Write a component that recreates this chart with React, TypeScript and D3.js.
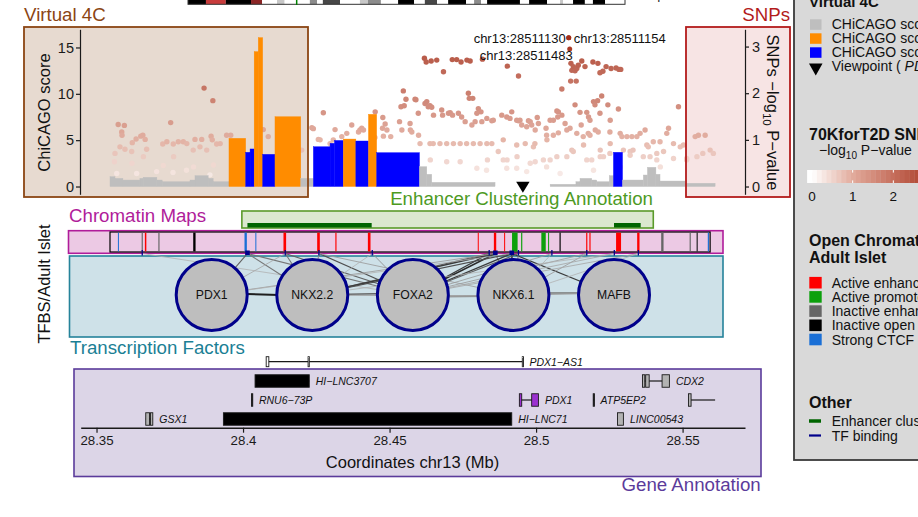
import { useEffect, useRef } from 'react';
import * as d3 from 'd3';

const FONT = "'Liberation Sans', Arial, Helvetica, sans-serif";

// genomic window shared by all tracks (Mb, chr13)
const region: [number, number] = [28.3446, 28.5713];
const viewpoint = 28.4955;

// chr13 ideogram bands [start Mb, end Mb, stain]
const ideoBands: [number, number, string][] = [
  [0, 4.7, 'gpos100'], [4.7, 9.9, 'acen'], [9.9, 16.5, 'gpos100'], [16.5, 19.4, 'gvar'],
  [19.4, 23.3, 'gneg'], [23.3, 25.3, 'gpos25'], [25.3, 31.9, 'gneg'], [31.9, 33.8, 'gpos50'],
  [33.8, 35.3, 'gneg'], [35.3, 39.8, 'gpos75'], [39.8, 45.0, 'gneg'], [45.0, 47.1, 'gpos25'],
  [47.1, 50.5, 'gpos50'], [50.5, 55.0, 'gneg'], [55.0, 59.2, 'gpos100'], [59.2, 62.0, 'gneg'],
  [62.0, 65.2, 'gpos75'], [65.2, 68.1, 'gneg'], [68.1, 72.8, 'gpos100'], [72.8, 74.9, 'gneg'],
  [74.9, 76.7, 'gpos50'], [76.7, 78.3, 'gneg'], [78.3, 86.9, 'gpos100'], [86.9, 89.3, 'gneg'],
  [89.3, 94.0, 'gpos100'], [94.0, 97.4, 'gneg'], [97.4, 98.2, 'gpos25'], [98.2, 100.8, 'gneg'],
  [100.8, 103.9, 'gpos100'], [103.9, 106.0, 'gneg'], [106.0, 109.2, 'gpos100'], [109.2, 114.4, 'gneg'],
];
const chr13Length = 114.4;

// Virtual 4C fragments [start, end, CHiCAGO score]
const v4cFragments: [number, number, number][] = [
  [28.3546, 28.3563, 1.06], [28.3563, 28.359, 0.88], [28.359, 28.3648, 0.7],
  [28.3648, 28.3659, 0.88], [28.3659, 28.3706, 0.99], [28.3706, 28.3724, 0.7],
  [28.3724, 28.3819, 0.52], [28.3819, 28.3836, 0.7], [28.3836, 28.3881, 1.17],
  [28.3881, 28.3898, 0.88], [28.3898, 28.3952, 0.52],
  [28.3952, 28.4009, 5.2], [28.4009, 28.4024, 3.69], [28.4024, 28.4038, 4.05],
  [28.4038, 28.4052, 14.55], [28.4052, 28.4067, 16.06], [28.4067, 28.4109, 3.47],
  [28.4109, 28.4197, 7.53], [28.4197, 28.424, 0.88], [28.424, 28.4297, 4.29],
  [28.4297, 28.4312, 4.66], [28.4312, 28.4342, 4.97], [28.4342, 28.4385, 5.12],
  [28.4385, 28.4428, 4.91], [28.4428, 28.4456, 7.79], [28.4456, 28.4602, 3.65],
  [28.4602, 28.4627, 2.14], [28.4627, 28.4644, 1.32], [28.4644, 28.486, 0.45],
  [28.5048, 28.5136, 0.24], [28.5136, 28.515, 0.52], [28.515, 28.519, 0.88],
  [28.519, 28.5207, 0.7], [28.5207, 28.525, 0.52], [28.525, 28.5264, 1.17],
  [28.5264, 28.5295, 3.69], [28.5295, 28.5366, 0.7], [28.5366, 28.538, 1.24],
  [28.538, 28.5409, 2.07], [28.5409, 28.5423, 1.32], [28.5423, 28.5509, 0.59],
  [28.5509, 28.5611, 0.35],
];

// 70KforT2D SNPs [position Mb, -log10 P]
const snps: [number, number][] = [
  [28.3563, 0.71], [28.3561, 0.53], [28.3569, 0.28], [28.3574, 1.33], [28.358, 0.85], [28.3586, 1.17],
  [28.3587, 1.1], [28.3595, 1.31], [28.3597, 0.8], [28.362, 0.75], [28.3621, 0.5], [28.3622, 0.94],
  [28.3635, 1.02], [28.3637, 0.28], [28.3651, 1.08], [28.3658, 1.1], [28.366, 0.64], [28.3666, 1.01],
  [28.3671, 0.8], [28.3705, 0.32], [28.3726, 0.91], [28.3728, 0.45], [28.374, 0.96], [28.3753, 1.37],
  [28.3762, 0.91], [28.3763, 0.64], [28.3761, 0.3], [28.3779, 0.96], [28.3796, 0.96], [28.3808, 0.92],
  [28.3807, 0.35], [28.383, 0.78], [28.3831, 0.42], [28.3836, 1.01], [28.3853, 0.85], [28.3859, 1.01],
  [28.3867, 2.11], [28.3876, 0.78], [28.3887, 0.25], [28.3891, 1.08], [28.3895, 1.0], [28.3897, 1.84],
  [28.3899, 0.46], [28.391, 0.91], [28.3922, 0.92], [28.3944, 1.1], [28.3958, 1.1], [28.4069, 1.22],
  [28.4086, 1.07], [28.42, 0.78], [28.4235, 1.26], [28.424, 1.24], [28.4257, 1.01], [28.4263, 1.0],
  [28.4274, 1.58], [28.4297, 0.92], [28.4308, 1.0], [28.4314, 1.22], [28.4337, 1.07], [28.4354, 1.14],
  [28.4371, 1.32], [28.4394, 1.17], [28.4399, 1.21], [28.4405, 1.25], [28.4411, 1.21], [28.4451, 1.6],
  [28.445, 1.05], [28.4477, 1.48], [28.4476, 1.25], [28.4479, 1.08], [28.4485, 1.34], [28.4491, 1.21],
  [28.4504, 1.07], [28.4534, 1.39], [28.4539, 1.71], [28.4542, 1.21], [28.4547, 2.05], [28.455, 1.73],
  [28.4556, 1.87], [28.457, 1.35], [28.4571, 1.21], [28.4576, 1.17], [28.4587, 1.87], [28.459, 1.86],
  [28.4598, 1.57], [28.4599, 1.1], [28.4604, 0.92], [28.4619, 2.75], [28.4621, 1.78], [28.4625, 2.67],
  [28.4627, 1.82], [28.4632, 1.71], [28.4636, 1.72], [28.4638, 1.73], [28.4638, 0.92], [28.4639, 0.57],
  [28.4642, 2.69], [28.4644, 1.7], [28.465, 1.53], [28.4649, 0.92], [28.4661, 2.71], [28.4672, 0.92],
  [28.4678, 1.64], [28.4681, 1.53], [28.4684, 2.46], [28.4695, 0.92], [28.4695, 0.53], [28.4701, 1.57],
  [28.4707, 1.58], [28.4714, 2.72], [28.4715, 1.53], [28.4718, 0.92], [28.4729, 2.72], [28.4735, 1.57],
  [28.4741, 0.92], [28.4741, 0.53], [28.4744, 2.67], [28.4746, 1.49], [28.4758, 1.39], [28.4764, 2.71],
  [28.4763, 0.92], [28.4769, 2.0], [28.4772, 1.89], [28.4775, 2.69], [28.4781, 1.32], [28.4784, 1.89],
  [28.4786, 0.92], [28.4792, 1.39], [28.4798, 1.57], [28.4798, 0.39], [28.4803, 1.67], [28.4809, 0.92],
  [28.4812, 1.6], [28.4815, 1.39], [28.4817, 2.73], [28.4832, 1.46], [28.4832, 0.92], [28.4831, 0.35],
  [28.4834, 0.57], [28.4849, 1.41], [28.4849, 0.92], [28.4854, 1.42], [28.4871, 0.75], [28.4883, 1.53],
  [28.4888, 1.0], [28.4888, 0.57], [28.49, 1.49], [28.49, 0.39], [28.4901, 0.57], [28.4902, 2.58],
  [28.4911, 1.46], [28.4917, 1.6], [28.4934, 1.42], [28.4934, 0.89], [28.4935, 0.64], [28.4934, 0.39],
  [28.494, 2.37], [28.494, 1.41], [28.4945, 1.42], [28.4951, 1.32], [28.4963, 0.92], [28.4968, 1.28],
  [28.4968, 0.32], [28.4974, 1.41], [28.498, 1.39], [28.498, 0.5], [28.4985, 1.32], [28.4991, 0.85],
  [28.4997, 1.21], [28.4996, 0.92], [28.4997, 0.53], [28.5004, 1.48], [28.5008, 1.35], [28.5025, 0.57],
  [28.5034, 1.25], [28.5036, 1.1], [28.5037, 1.0], [28.5036, 0.42], [28.5048, 1.42], [28.5048, 0.57],
  [28.5059, 1.42], [28.5059, 1.1], [28.5071, 1.62], [28.5071, 0.64], [28.5074, 1.49], [28.5076, 1.6],
  [28.5076, 1.15], [28.5082, 0.28], [28.5088, 2.09], [28.5088, 1.53], [28.5099, 1.35], [28.5105, 1.21],
  [28.5105, 0.64], [28.5116, 1.25], [28.5119, 2.64], [28.5118, 2.26], [28.5122, 2.49], [28.5122, 0.78],
  [28.5127, 2.57], [28.5127, 0.75], [28.5133, 2.48], [28.5133, 1.75], [28.5137, 2.26], [28.5139, 2.53],
  [28.5139, 1.14], [28.5144, 2.6], [28.515, 1.59], [28.5154, 1.32], [28.5156, 2.69], [28.5161, 1.07],
  [28.5162, 0.89], [28.5167, 2.57], [28.5173, 1.59], [28.5173, 0.57], [28.5179, 1.49], [28.5178, 1.14],
  [28.5184, 1.42], [28.5184, 1.1], [28.519, 0.57], [28.5194, 2.67], [28.5196, 1.82], [28.5196, 0.35],
  [28.5201, 1.75], [28.5202, 1.21], [28.5211, 2.64], [28.521, 1.84], [28.5212, 1.17], [28.5218, 2.44],
  [28.5218, 1.57], [28.5219, 0.78], [28.5219, 0.64], [28.5224, 1.94], [28.5228, 2.47], [28.523, 0.64],
  [28.5239, 2.57], [28.5245, 1.75], [28.5253, 1.42], [28.5252, 1.17], [28.5253, 0.92], [28.5252, 0.71],
  [28.5256, 2.53], [28.5273, 2.54], [28.5276, 0.57], [28.5281, 1.66], [28.5283, 2.51], [28.5287, 1.14],
  [28.5287, 0.42], [28.5289, 2.51], [28.5293, 1.07], [28.5298, 0.78], [28.531, 1.07], [28.5321, 0.75],
  [28.5321, 0.67], [28.5327, 1.07], [28.5331, 0.78], [28.5344, 1.07], [28.5355, 1.14], [28.5366, 0.64],
  [28.5372, 1.21], [28.5378, 0.89], [28.5383, 0.85], [28.5389, 0.64], [28.54, 0.96], [28.5412, 0.71],
  [28.5412, 0.57], [28.5423, 0.96], [28.5424, 0.42], [28.5435, 0.75], [28.5446, 1.14], [28.5452, 1.25],
  [28.5469, 0.92], [28.5469, 0.6], [28.5486, 1.71], [28.5492, 0.85], [28.5503, 0.89], [28.5514, 0.57],
  [28.5514, 0.6], [28.5543, 1.07], [28.5549, 0.64], [28.5554, 1.1], [28.5569, 0.71], [28.5577, 1.1],
  [28.5594, 0.78], [28.5605, 0.71],
];

// lead SNPs that carry a label [position Mb, -log10 P]
const leadSnps: [number, number][] = [
  [28.51113, 3.19], [28.511154, 3.19], [28.511483, 2.95],
];

// enhancer clustering annotation
const enhancerRegion: [number, number] = [28.3996, 28.54];
const enhancerClusters: [number, number][] = [[28.4015, 28.4439], [28.5266, 28.5357]];

// open chromatin map, adult islet [start, end, state]
const chromRegion: [number, number] = [28.3546, 28.5594];
const chromStates = ['Active enhancer', 'Active promoter', 'Inactive enhancer', 'Inactive open chromatin', 'Strong CTCF'];
const chromFeatures: [number, number, string][] = [
  [28.3573, 28.3576, 'Strong CTCF'], [28.3654, 28.3658, 'Inactive enhancer'], [28.3665, 28.367, 'Active enhancer'],
  [28.3711, 28.3715, 'Inactive enhancer'], [28.383, 28.3838, 'Inactive open chromatin'], [28.4005, 28.4013, 'Strong CTCF'],
  [28.4042, 28.4045, 'Strong CTCF'], [28.4138, 28.4147, 'Active enhancer'], [28.4253, 28.4262, 'Active enhancer'],
  [28.4315, 28.4319, 'Active enhancer'], [28.4426, 28.4435, 'Active enhancer'], [28.4801, 28.4804, 'Active enhancer'],
  [28.4856, 28.4864, 'Active enhancer'], [28.4891, 28.4894, 'Active enhancer'], [28.4918, 28.4937, 'Active promoter'],
  [28.4949, 28.4953, 'Active promoter'], [28.5018, 28.5033, 'Active promoter'], [28.5041, 28.5044, 'Active promoter'],
  [28.508, 28.5084, 'Inactive open chromatin'], [28.5171, 28.5175, 'Active enhancer'], [28.5182, 28.5186, 'Active enhancer'],
  [28.5273, 28.529, 'Active enhancer'], [28.5345, 28.5353, 'Active enhancer'], [28.5427, 28.5435, 'Inactive enhancer'],
  [28.5524, 28.5528, 'Inactive enhancer'], [28.5548, 28.5551, 'Inactive open chromatin'], [28.5586, 28.559, 'Strong CTCF'],
];

// TF binding sites [position Mb, strong]
const tfSites: [number, boolean][] = [
  [28.3656, false], [28.4015, true], [28.4144, false], [28.4259, false], [28.4441, false],
  [28.484, false], [28.4861, true], [28.4917, true], [28.494, false], [28.5054, false],
  [28.5173, false], [28.5267, false], [28.5349, false],
];
const tfNames = ['PDX1', 'NKX2.2', 'FOXA2', 'NKX6.1', 'MAFB'];
// site -> TF edges [site Mb, TF, weight]
const siteEdges: [number, string, number][] = [
  [28.3656, 'FOXA2', 0.2], [28.4015, 'PDX1', 0.6], [28.4015, 'NKX2.2', 0.5], [28.4015, 'FOXA2', 0.5],
  [28.4144, 'NKX2.2', 0.5], [28.4144, 'FOXA2', 0.6], [28.4144, 'PDX1', 0.25], [28.4259, 'NKX2.2', 0.4],
  [28.4259, 'FOXA2', 0.7], [28.4259, 'NKX6.1', 0.3], [28.4441, 'FOXA2', 0.35], [28.4441, 'NKX2.2', 0.2],
  [28.484, 'FOXA2', 0.8], [28.484, 'NKX2.2', 0.6], [28.4861, 'FOXA2', 0.9], [28.4861, 'NKX2.2', 0.8],
  [28.4861, 'PDX1', 0.3], [28.4861, 'NKX6.1', 0.5], [28.4917, 'NKX6.1', 0.9], [28.4917, 'FOXA2', 0.8],
  [28.4917, 'NKX2.2', 0.7], [28.4917, 'MAFB', 0.8], [28.4917, 'PDX1', 0.2], [28.494, 'FOXA2', 0.6],
  [28.494, 'NKX6.1', 0.5], [28.5054, 'FOXA2', 0.3], [28.5054, 'NKX6.1', 0.2], [28.5173, 'FOXA2', 0.3],
  [28.5173, 'NKX6.1', 0.3], [28.5267, 'FOXA2', 0.25], [28.5267, 'NKX2.2', 0.2], [28.5349, 'FOXA2', 0.25],
  [28.5349, 'NKX6.1', 0.2],
];
// TF -> TF edges [from, to, weight]
const tfEdges: [string, string, number][] = [
  ['PDX1', 'NKX2.2', 0.95], ['NKX2.2', 'FOXA2', 0.6], ['FOXA2', 'NKX6.1', 0.4],
  ['NKX6.1', 'MAFB', 0.5], ['NKX2.2', 'NKX6.1', 0.3], ['FOXA2', 'MAFB', 0.3],
];

// gene annotation
const genes = [
  { name: 'PDX1-AS1', row: 0, start: 28.4081, end: 28.4955, kind: 'antisense', exons: [[28.4079, 28.4088], [28.4222, 28.4226], [28.4953, 28.4957]] },
  { name: 'HI-LNC3707', row: 1, start: 28.4041, end: 28.4226, kind: 'lncRNA', exons: [[28.4041, 28.4226]] },
  { name: 'CDX2', row: 1, start: 28.5363, end: 28.5455, kind: 'protein', exons: [[28.5363, 28.5371], [28.5374, 28.5386], [28.543, 28.5455]] },
  { name: 'RNU6-73P', row: 2, start: 28.4029, end: 28.4032, kind: 'lncRNA', exons: [[28.4029, 28.4032]] },
  { name: 'PDX1', row: 2, start: 28.4943, end: 28.5008, kind: 'target', exons: [[28.4943, 28.4951], [28.4985, 28.5008]] },
  { name: 'ATP5EP2', row: 2, start: 28.5195, end: 28.5198, kind: 'lncRNA', exons: [[28.5195, 28.5198]] },
  { name: '', row: 2, start: 28.552, end: 28.5611, kind: 'protein', exons: [[28.552, 28.5529]] },
  { name: 'GSX1', row: 3, start: 28.3668, end: 28.3692, kind: 'protein', exons: [[28.3668, 28.3681], [28.3684, 28.3692]] },
  { name: 'HI-LNC71', row: 3, start: 28.3933, end: 28.4917, kind: 'lncRNA', exons: [[28.3933, 28.4917]] },
  { name: 'LINC00543', row: 3, start: 28.5278, end: 28.5298, kind: 'protein', exons: [[28.5278, 28.5298]] },
];
const geneTicks = [28.35, 28.4, 28.45, 28.5, 28.55];

// legend classes for the virtual 4C bars (representative score, label)
const v4cLegend: [number, string][] = [
  [1, 'CHiCAGO score < 3'], [8, 'CHiCAGO score > 5'], [4, 'CHiCAGO score 3 \u2212 5'],
];

const stainFill: Record<string, string> = {
  gneg: '#ffffff', gpos25: '#c8c8c8', gpos50: '#8c8c8c', gpos75: '#474747',
  gpos100: '#000000', acen: '#c83c3c', gvar: '#8b2525',
};
const stateFill: Record<string, string> = {
  'Active enhancer': '#ff0000', 'Active promoter': '#0ca00c', 'Inactive enhancer': '#666666',
  'Inactive open chromatin': '#000000', 'Strong CTCF': '#1a6fd6',
};
const exonFill: Record<string, string> = { antisense: '#ffffff', lncRNA: '#000000', protein: '#b3b3b3', target: '#9b30d0' };

const v4cColor = (s: number) => (s < 3 ? '#bebebe' : s < 5 ? '#0000ff' : '#ff8c00');
const rowY = [361.7, 381, 400, 419];

export default function App() {
  const v4cAxisRef = useRef<SVGGElement>(null);
  const snpAxisRef = useRef<SVGGElement>(null);
  const geneAxisRef = useRef<SVGGElement>(null);

  const x = d3.scaleLinear().domain(region).range([80.7, 745]);
  const yV = d3.scaleLinear().domain([-0.84, 16.96]).range([194.3, 29.3]);
  const yS = d3.scaleLinear().domain([-0.167, 3.37]).range([194.3, 29.3]);
  const ideo = d3.scaleLinear().domain([0, chr13Length]).range([188, 625]);
  const snpColor = d3.scaleLinear<string>()
    .domain([0, 1, 2, 3.2])
    .range(['#ffffff', '#e2ab9c', '#c56e5c', '#a32e18'])
    .clamp(true);
  const node = d3.scalePoint<string>().domain(tfNames).range([211.7, 614]);
  const nodeY = 295;
  const legScale = d3.scaleLinear().domain([0, 3]).range([812, 934]);

  useEffect(() => {
    const style = (g: any, size: number) => {
      g.attr('font-family', FONT).attr('font-size', size);
      g.selectAll('path, line').attr('stroke', '#1a1a1a').attr('stroke-width', 1.2);
      g.selectAll('text').attr('fill', '#1a1a1a');
    };
    d3.select(v4cAxisRef.current!)
      .call(d3.axisLeft(yV).tickValues([0, 5, 10, 15]).tickSize(4).tickPadding(2).tickSizeOuter(0))
      .call((g) => style(g, 14.5));
    d3.select(snpAxisRef.current!)
      .call(d3.axisRight(yS).tickValues([0, 1, 2, 3]).tickFormat(d3.format('d')).tickSize(4).tickPadding(3).tickSizeOuter(0))
      .call((g) => style(g, 14.5));
    d3.select(geneAxisRef.current!)
      .call(d3.axisBottom(x).tickValues(geneTicks).tickFormat((d) => String(+(+d).toFixed(2))).tickSize(5).tickPadding(3).tickSizeOuter(0))
      .call((g) => style(g, 13.3));
    d3.select(geneAxisRef.current!).select('.domain').attr('stroke-width', 1.5);
  }, []);

  const minus = (s: string) => s.replace(/-/g, '\u2212');
  const legendSteps = d3.range(-0.12, 3.3, 0.12);

  return (
    <svg width={918} height={517} style={{ position: 'absolute', left: 0, top: 0 }} fontFamily={FONT}>
      <rect width={918} height={517} fill="#ffffff" />

      {/* ideogram */}
      <g>
        {ideoBands.map(([s, e, st], i) => (
          <rect key={i} x={ideo(s)} y={-6} width={ideo(e) - ideo(s)} height={10.3} fill={stainFill[st]} />
        ))}
        <rect x={ideo(0)} y={-6} width={ideo(chr13Length) - ideo(0)} height={10.3} fill="none" stroke="#333" strokeWidth={1} />
        <line x1={ideo(28.45)} x2={ideo(28.45)} y1={-6} y2={5} stroke="#008000" strokeWidth={1.5} />
        <text x={653} y={-1.5} fontSize={13} fill="#222">q12.3</text>
      </g>

      {/* panel backgrounds */}
      <rect x={24} y={27} width={284} height={170} fill="#e7dad0" />
      <rect x={686} y={27} width={104} height={170} fill="#f7e4e4" />
      <text x={24} y={20.7} fontSize={18.7} fill="#8b4513">Virtual 4C</text>
      <text x={790} y={20.7} fontSize={18.7} fill="#b31b1b" textAnchor="end">SNPs</text>

      {/* SNPs */}
      <g opacity={0.88}>
        {snps.map(([pos, p], i) => (
          <circle key={i} cx={x(pos)} cy={yS(p)} r={2.7} fill={snpColor(p)} />
        ))}
      </g>

      {/* virtual 4C bars */}
      <g>
        {v4cFragments.map(([s, e, sc], i) => (
          <rect key={i} x={x(s)} y={yV(sc)} width={x(e) - x(s)} height={yV(0) - yV(sc)}
            fill={v4cColor(sc)} stroke={v4cColor(sc)} strokeWidth={0.4} />
        ))}
      </g>

      {/* lead SNPs */}
      <g>
        {leadSnps.map(([pos, p], i) => (
          <circle key={i} cx={x(pos)} cy={yS(p)} r={2.5} fill={snpColor(p)} />
        ))}
        {leadSnps.map(([pos, p], i) => {
          const place = [
            { dx: -3, dy: 5, anchor: 'end' },
            { dx: 5, dy: 5, anchor: 'start' },
            { dx: 3, dy: 11.5, anchor: 'end' },
          ][i];
          return (
            <text key={i} x={x(pos) + place.dx} y={yS(p) + place.dy} fontSize={13} fill="#111" textAnchor={place.anchor}>
              {`chr13:${Math.round(pos * 1e6)}`}
            </text>
          );
        })}
      </g>

      {/* panel borders */}
      <rect x={24} y={27} width={284} height={170} fill="none" stroke="#8b4513" strokeWidth={1.8} />
      <rect x={686} y={27} width={104} height={170} fill="none" stroke="#b31b1b" strokeWidth={1.8} />

      <g ref={v4cAxisRef} transform="translate(80,0)" />
      <g ref={snpAxisRef} transform="translate(745,0)" />
      <text transform="translate(50,112.5) rotate(-90)" fontSize={16.5} textAnchor="middle" fill="#111">ChiCAGO score</text>
      <text transform="translate(767,112.5) rotate(90)" fontSize={16.5} textAnchor="middle" fill="#111">
        SNPs −log<tspan fontSize={11.5} dy={4}>10</tspan><tspan dy={-4}> P−value</tspan>
      </text>

      {/* viewpoint */}
      <path d={`M${x(viewpoint) - 6.7},181.7 L${x(viewpoint) + 6.7},181.7 L${x(viewpoint)},192.7 Z`} fill="#000" />

      {/* enhancer clustering */}
      <text x={653} y={205} fontSize={18.7} fill="#4d9a1f" textAnchor="end">Enhancer Clustering Annotation</text>
      <rect x={x(enhancerRegion[0])} y={211} width={x(enhancerRegion[1]) - x(enhancerRegion[0])} height={17}
        fill="#dbe8cf" stroke="#5a9a2a" strokeWidth={1.6} />
      {enhancerClusters.map(([s, e], i) => (
        <rect key={i} x={x(s)} y={223} width={x(e) - x(s)} height={4.5} fill="#006400" />
      ))}

      {/* chromatin map */}
      <text x={69} y={222} fontSize={18.7} fill="#b01c9a">Chromatin Maps</text>
      <rect x={68.5} y={230.7} width={654.5} height={22.6} fill="#ecc9e4" stroke="#b01c9a" strokeWidth={1.6} />
      <rect x={x(chromRegion[0])} y={232} width={x(chromRegion[1]) - x(chromRegion[0])} height={20}
        fill="#ecc9e4" stroke="#000" strokeWidth={1.2} />
      {chromFeatures.map(([s, e, st], i) => (
        <rect key={i} x={x(s)} y={232.6} width={Math.max(1, x(e) - x(s))} height={18.8} fill={stateFill[st]} />
      ))}

      {/* TF network */}
      <rect x={69.5} y={256} width={653.5} height={81} fill="#cee1e8" stroke="#25839a" strokeWidth={1.6} />
      <text transform="translate(50,284) rotate(-90)" fontSize={16.5} textAnchor="middle" fill="#111">TFBS/Adult Islet</text>
      <g>
        {siteEdges.map(([site, tf, w], i) => {
          const c = Math.round(215 - 195 * w);
          return (
            <line key={i} x1={x(site)} y1={253.5} x2={node(tf)!} y2={nodeY}
              stroke={`rgb(${c},${c},${c})`} strokeWidth={0.6 + 0.9 * w} />
          );
        })}
        {tfEdges.map(([a, b, w], i) => {
          const c = Math.round(215 - 195 * w);
          return (
            <line key={i} x1={node(a)!} y1={nodeY - 2 + (i % 3) * 2} x2={node(b)!} y2={nodeY + 1 - (i % 2) * 3}
              stroke={`rgb(${c},${c},${c})`} strokeWidth={0.8 + 1.2 * w} />
          );
        })}
        {tfSites.map(([pos, strong], i) =>
          strong ? (
            <rect key={i} x={x(pos) - 2.3} y={250.5} width={4.6} height={4.6} fill="#00008b" />
          ) : (
            <line key={i} x1={x(pos)} x2={x(pos)} y1={250} y2={255.5} stroke="#00008b" strokeWidth={1.3} />
          )
        )}
        {tfNames.map((n) => (
          <g key={n}>
            <circle cx={node(n)!} cy={nodeY} r={35.5} fill="#bebebe" stroke="#00008b" strokeWidth={3} />
            <text x={node(n)!} y={nodeY + 4.3} fontSize={12.2} textAnchor="middle" fill="#111">{n}</text>
          </g>
        ))}
      </g>
      <text x={70} y={353.5} fontSize={18.7} fill="#1b7f95">Transcription Factors</text>

      {/* gene annotation */}
      <rect x={74} y={369} width={687} height={107.5} fill="#dcd5e7" stroke="#5b3b9b" strokeWidth={1.6} />
      <text x={760.7} y={491} fontSize={18.7} fill="#5b3b9b" textAnchor="end">Gene Annotation</text>
      <g>
        {genes.map((g, i) => {
          const y = rowY[g.row];
          const h = g.row === 0 ? 10 : 12.5;
          return (
            <g key={i}>
              <line x1={x(g.start)} x2={x(g.end)} y1={y} y2={y} stroke="#1a1a1a" strokeWidth={1.2} />
              {g.exons.map(([s, e], j) => (
                <rect key={j} x={x(s)} y={y - h / 2} width={Math.max(1.2, x(e) - x(s))} height={h}
                  fill={exonFill[g.kind]} stroke="#1a1a1a" strokeWidth={0.9} />
              ))}
              {g.name && (
                <text x={x(g.end) + 6.5} y={y + 3.8} fontSize={10.5} fontStyle="italic" fill="#111">{minus(g.name)}</text>
              )}
            </g>
          );
        })}
      </g>
      <g ref={geneAxisRef} transform="translate(0,427.7)" />
      <text x={412.5} y={468} fontSize={16.5} textAnchor="middle" fill="#111">Coordinates chr13 (Mb)</text>

      {/* legend */}
      <g>
        <rect x={794} y={-6} width={140} height={466} fill="#d9d9d9" stroke="#3a3a3a" strokeWidth={1.8} />
        <text x={809} y={6.5} fontSize={15} fontWeight="bold" fill="#111">Virtual 4C</text>
        {v4cLegend.map(([s, label], i) => (
          <g key={i}>
            <rect x={810} y={19.3 + i * 14} width={11.5} height={10.5} fill={v4cColor(s)} />
            <text x={831.7} y={29.3 + i * 14} fontSize={14} fill="#111">{label}</text>
          </g>
        ))}
        <path d="M809,63.5 L822.5,63.5 L815.75,75.5 Z" fill="#000" />
        <text x={831.7} y={71.3} fontSize={14} fill="#111">
          Viewpoint ( <tspan fontStyle="italic">PDX1</tspan> )
        </text>

        <text x={809} y={140} fontSize={16} fontWeight="bold" fill="#111">70KforT2D SNPs</text>
        <text x={819} y={155} fontSize={14} fill="#111">
          −log<tspan fontSize={10} dy={3.5}>10</tspan><tspan dy={-3.5}> P−value</tspan>
        </text>
        {legendSteps.map((v, i) => (
          <rect key={i} x={legScale(v)} y={170} width={legScale(0.12) - legScale(0) + 0.3} height={13}
            fill={snpColor(v + 0.06)} />
        ))}
        {[0, 1, 2, 3].map((v) => (
          <g key={v}>
            <line x1={legScale(v)} x2={legScale(v)} y1={170} y2={172.6} stroke="#fff" strokeWidth={1} />
            <line x1={legScale(v)} x2={legScale(v)} y1={180.4} y2={183} stroke="#fff" strokeWidth={1} />
            <text x={legScale(v)} y={201} fontSize={13.5} textAnchor="middle" fill="#111">{v}</text>
          </g>
        ))}

        <text x={809} y={246} fontSize={16} fontWeight="bold" fill="#111">Open Chromatin Map</text>
        <text x={809} y={263} fontSize={16} fontWeight="bold" fill="#111">Adult Islet</text>
        {chromStates.map((s, i) => (
          <g key={s}>
            <rect x={809.3} y={276.9 + i * 14.2} width={12.4} height={11.6} fill={stateFill[s]} />
            <text x={831.7} y={287.7 + i * 14.2} fontSize={14} fill="#111">{s}</text>
          </g>
        ))}

        <text x={809} y={408} fontSize={16} fontWeight="bold" fill="#111">Other</text>
        <line x1={809} x2={821} y1={421} y2={421} stroke="#006400" strokeWidth={3.5} />
        <text x={831.7} y={426} fontSize={14} fill="#111">Enhancer cluster</text>
        <line x1={809} x2={821} y1={435.5} y2={435.5} stroke="#00008b" strokeWidth={2.2} />
        <text x={831.7} y={440.5} fontSize={14} fill="#111">TF binding</text>
      </g>
    </svg>
  );
}
